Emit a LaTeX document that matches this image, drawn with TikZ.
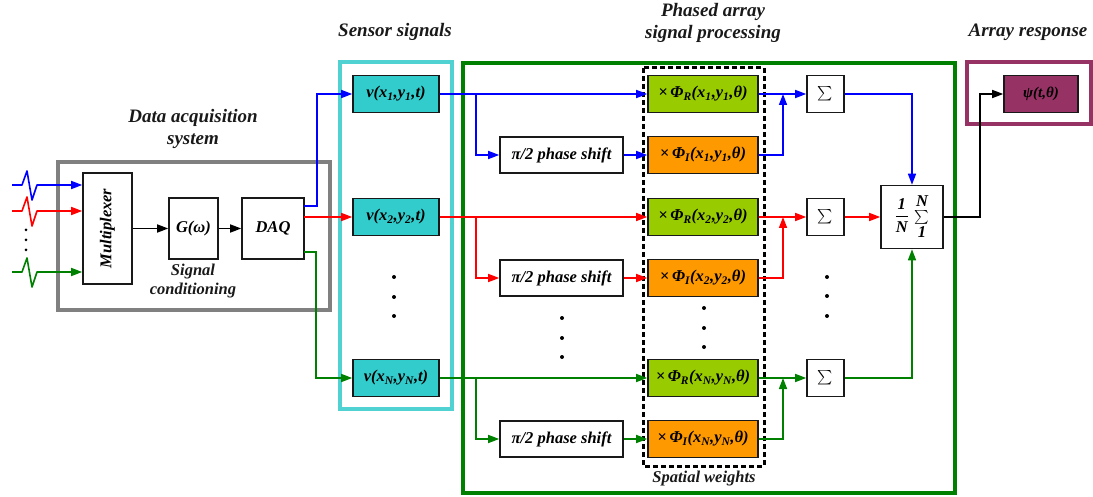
\documentclass[tikz,border=0pt]{standalone}
\usepackage{exscale}
\usepackage{graphicx}
\usepackage{fontspec}
\setmainfont{Liberation Serif}
\usetikzlibrary{arrows.meta,calc}
\definecolor{vcyan}{RGB}{51,204,204}
\definecolor{bcyan}{RGB}{80,210,210}
\definecolor{phig}{RGB}{153,204,0}
\definecolor{phio}{RGB}{255,153,0}
\definecolor{maroon}{RGB}{150,50,100}
\definecolor{dgreen}{RGB}{0,128,0}
\definecolor{lgray}{RGB}{128,128,128}
\begin{document}
\begin{tikzpicture}[x=1pt,y=-1pt,
  box/.style={draw=black!90,line width=1.6pt,inner sep=0pt,font=\fontsize{16.5}{18}\selectfont\bfseries\itshape},
  title/.style={font=\fontsize{19}{22}\selectfont\bfseries\itshape,align=center,text=black!90},
  sub/.style={font=\fontsize{16.5}{18.5}\selectfont\bfseries\itshape,align=center,text=black!90},
  sig/.style={line width=1.6pt,-{Triangle[length=11pt,width=8pt]}},
  dot/.style={circle,fill=black,inner sep=0pt,minimum size=4pt},
  vbox/.style={box,fill=vcyan,minimum width=86pt,minimum height=37pt},
  rbox/.style={box,fill=phig,minimum width=110pt,minimum height=37pt},
  ibox/.style={box,fill=phio,minimum width=110pt,minimum height=37pt},
  psbox/.style={box,fill=white,minimum width=123pt,minimum height=36pt},
  sbox/.style={box,fill=white,minimum width=37pt,minimum height=37pt,font=\fontsize{15}{16}\selectfont},
]
\useasboundingbox (0,0) rectangle (1093,497);

% group frames
\draw[lgray,line width=4pt] (58,162) rectangle (330,310);
\draw[bcyan,line width=4.5pt] (340,62) rectangle (452,409);
\draw[dgreen,line width=4.5pt] (463,63) rectangle (955,493);
\draw[maroon,line width=4.5pt] (967,62) rectangle (1091,124);
\draw[black,line width=3pt,dash pattern=on 5pt off 3pt] (643,68) rectangle (764,466);

% titles
\node[title] (t1) at (193,129) {Data acquisition\\system};
\node[sub] (t2) at (193,281) {Signal\\conditioning};
\node[title] (t3) at (395,32) {Sensor signals};
\node[title] (t4) at (713,23) {Phased array\\signal processing};
\node[title] (t5) at (1028,32) {Array response};
\node[sub] (t6) at (704,479) {Spatial weights};

% DAQ system
\node[box,minimum width=49pt,minimum height=111pt] (mux) at (107.5,228.5) {};
\node[rotate=90,font=\fontsize{16.5}{18}\selectfont\bfseries\itshape] (muxt) at (mux) {Multiplexer};
\node[box,minimum width=49pt,minimum height=61pt] (g) at (193.5,228.5) {G(ω)};
\node[box,minimum width=62pt,minimum height=61pt] (daq) at (273,228.5) {DAQ};
\draw[sig,black] (mux.east |- g.west) -- (g.west);
\draw[sig,black] (g.east) -- (daq.west);

% input pulses
\coordinate (in1) at (12,185);
\coordinate (in2) at (12,211);
\coordinate (in3) at (12,272);
\draw[sig,blue,line join=round] (in1) -- ++(10,0) -- ++(5,-14) -- ++(5,29) -- ++(5,-15) -- (in1 -| mux.west);
\draw[sig,red,line join=round] (in2) -- ++(10,0) -- ++(5,-14) -- ++(5,29) -- ++(5,-15) -- (in2 -| mux.west);
\draw[sig,dgreen,line join=round] (in3) -- ++(10,0) -- ++(5,-14) -- ++(5,29) -- ++(5,-15) -- (in3 -| mux.west);
\node[dot,minimum size=3pt] (id1) at (26,230) {};
\node[dot,minimum size=3pt] (id2) at (26,240) {};
\node[dot,minimum size=3pt] (id3) at (26,250) {};

% sensor signals
\node[vbox] (v1) at (396,94) {v(x\textsubscript{1},y\textsubscript{1},t)};
\node[vbox] (v2) at (396,217) {v(x\textsubscript{2},y\textsubscript{2},t)};
\node[vbox] (vN) at (396,378) {v(x\textsubscript{N},y\textsubscript{N},t)};
\node[dot] (vd1) at (394,277) {};
\node[dot] (vd2) at (394,297) {};
\node[dot] (vd3) at (394,316) {};

\coordinate (d1) at (304,206);
\coordinate (d2) at (304,217);
\coordinate (d3) at (304,252);
\draw[sig,blue] (d1) -- ++(13,0) |- (v1.west);
\draw[sig,red] (d2) -- (v2.west);
\draw[sig,dgreen] (d3) -- ++(12,0) |- (vN.west);

% phase shifts
\node[psbox] (ps1) at (561.5,155) {π/2 phase shift};
\node[psbox] (ps2) at (561.5,278) {π/2 phase shift};
\node[psbox] (psN) at (561.5,439) {π/2 phase shift};
\node[dot] (pd1) at (562,318) {};
\node[dot] (pd2) at (562,338) {};
\node[dot] (pd3) at (562,357) {};

% spatial weights
\node[rbox] (r1) at (703,94) {×\,Φ\textsubscript{R}(x\textsubscript{1},y\textsubscript{1},θ)};
\node[ibox] (i1) at (703,155) {×\,Φ\textsubscript{I}(x\textsubscript{1},y\textsubscript{1},θ)};
\node[rbox] (r2) at (703,217) {×\,Φ\textsubscript{R}(x\textsubscript{2},y\textsubscript{2},θ)};
\node[ibox] (i2) at (703,278) {×\,Φ\textsubscript{I}(x\textsubscript{2},y\textsubscript{2},θ)};
\node[rbox] (rN) at (703,378) {×\,Φ\textsubscript{R}(x\textsubscript{N},y\textsubscript{N},θ)};
\node[ibox] (iN) at (703,439) {×\,Φ\textsubscript{I}(x\textsubscript{N},y\textsubscript{N},θ)};
\node[dot] (wd1) at (704,308) {};
\node[dot] (wd2) at (704,328) {};
\node[dot] (wd3) at (704,347) {};

% sums
\node[sbox] (s1) at (825.5,94) {$\sum$};
\node[sbox] (s2) at (825.5,217) {$\sum$};
\node[sbox] (sN) at (825.5,378) {$\sum$};
\node[dot] (sd1) at (827,277) {};
\node[dot] (sd2) at (827,296) {};
\node[dot] (sd3) at (827,316) {};

% averaging block
\node[box,fill=white,minimum width=62pt,minimum height=63pt] (fin) at (912,217)
  {$\displaystyle\frac{\mbox{1}}{\mbox{N}}\,\mathop{\scalebox{0.8}{$\textstyle\sum$}}\limits^{\mbox{N}}_{\mbox{1}}$};
\node[box,fill=maroon,minimum width=74pt,minimum height=37pt,font=\fontsize{15}{17}\selectfont\bfseries\itshape] (psi) at (1041,94) {ψ(t,θ)};

% row 1
\coordinate (b1) at (476,94);
\coordinate (j1) at (783,94);
\draw[sig,blue] (v1.east) -- (r1.west);
\draw[sig,blue] (b1) |- (ps1.west);
\draw[sig,blue] (ps1.east) -- (i1.west);
\draw[sig,blue] (r1.east) -- (s1.west);
\draw[sig,blue] (i1.east) -| (j1);
% row 2
\coordinate (b2) at (476,217);
\coordinate (j2) at (783,217);
\draw[sig,red] (v2.east) -- (r2.west);
\draw[sig,red] (b2) |- (ps2.west);
\draw[sig,red] (ps2.east) -- (i2.west);
\draw[sig,red] (r2.east) -- (s2.west);
\draw[sig,red] (i2.east) -| (j2);
% row N
\coordinate (bN) at (476,378);
\coordinate (jN) at (783,378);
\draw[sig,dgreen] (vN.east) -- (rN.west);
\draw[sig,dgreen] (bN) |- (psN.west);
\draw[sig,dgreen] (psN.east) -- (iN.west);
\draw[sig,dgreen] (rN.east) -- (sN.west);
\draw[sig,dgreen] (iN.east) -| (jN);

% to final
\draw[sig,blue] (s1.east) -| (fin.north);
\draw[sig,red] (s2.east) -- (fin.west);
\draw[sig,dgreen] (sN.east) -| (fin.south);
\draw[sig,black] (fin.east) -- ++(36,0) |- (psi.west);
\end{tikzpicture}
\end{document}
